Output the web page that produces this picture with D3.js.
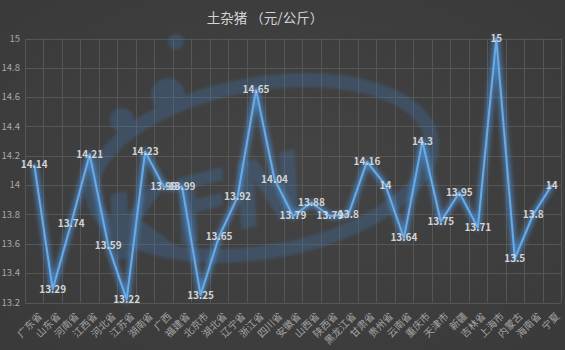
<!DOCTYPE html>
<html>
<head>
<meta charset="utf-8">
<script src="https://cdn.jsdelivr.net/npm/d3@7"></script>
<style>
  html, body { margin: 0; padding: 0; background: #3f3f3f; }
  svg { display: block; }
</style>
</head>
<body>
<svg id="chart" width="565" height="350"></svg>
<script>
// Regions (provinces / municipalities) along the category axis
const regions = ["广东省","山东省","河南省","江西省","河北省","江苏省","湖南省","广西","福建省","北京市",
  "湖北省","辽宁省","浙江省","四川省","安徽省","山西省","陕西省","黑龙江省","甘肃省","贵州省",
  "云南省","重庆市","天津市","新疆","吉林省","上海市","内蒙古","海南省","宁夏"];
// Price of 土杂猪, 元/公斤
const prices = [14.14,13.29,13.74,14.21,13.59,13.22,14.23,13.99,13.99,13.25,
  13.65,13.92,14.65,14.04,13.79,13.88,13.79,13.8,14.16,14,
  13.64,14.3,13.75,13.95,13.71,15,13.5,13.8,14];
const yTicks = [13.2,13.4,13.6,13.8,14,14.2,14.4,14.6,14.8,15];
const title = "土杂猪 （元/公斤）";

const W = 565, H = 350;
const plot = { left: 25, right: 561, top: 38.5, bottom: 302.5 };
const font = "'Noto Sans CJK SC','Noto Sans',sans-serif";

const svg = d3.select("#chart");
const defs = svg.append("defs");

// Background with a soft vignette
const bg = defs.append("radialGradient").attr("id", "bg").attr("cx", "50%").attr("cy", "50%").attr("r", "75%");
bg.append("stop").attr("offset", "0%").attr("stop-color", "#444444");
bg.append("stop").attr("offset", "100%").attr("stop-color", "#393939");
svg.append("rect").attr("width", W).attr("height", H).attr("fill", "url(#bg)");

// Glow for the series line
const glow = defs.append("filter").attr("id", "glow").attr("x", "-10%").attr("y", "-10%").attr("width", "120%").attr("height", "120%");
glow.append("feGaussianBlur").attr("stdDeviation", 2.8);

const wmBlur = defs.append("filter").attr("id", "wmblur");
wmBlur.append("feGaussianBlur").attr("stdDeviation", 1.5);

const x = d3.scaleBand().domain(regions).range([plot.left, plot.right]).padding(0);
const y = d3.scaleLinear().domain([13.2, 15]).range([plot.bottom, plot.top]);

// Gridlines
const grid = svg.append("g").attr("stroke", "#565656").attr("stroke-width", 1);
grid.selectAll("line.h").data(yTicks).join("line")
  .attr("x1", plot.left).attr("x2", plot.right)
  .attr("y1", d => Math.round(y(d)) + 0.5).attr("y2", d => Math.round(y(d)) + 0.5);
const bounds = regions.map(r => x(r)).concat([plot.right]);
grid.selectAll("line.v").data(bounds).join("line")
  .attr("y1", plot.top).attr("y2", plot.bottom)
  .attr("x1", d => Math.round(d) + 0.5).attr("x2", d => Math.round(d) + 0.5);

// Faint logo in the background
const wm = svg.append("g").attr("opacity", 0.24).attr("filter", "url(#wmblur)");
wm.append("ellipse").attr("cx", 262).attr("cy", 168).attr("rx", 172).attr("ry", 84)
  .attr("transform", "rotate(-10 262 168)")
  .attr("fill", "none").attr("stroke", "#3f86d0").attr("stroke-width", 14);
wm.append("circle").attr("cx", 168).attr("cy", 95).attr("r", 17).attr("fill", "#3f86d0");
wm.append("circle").attr("cx", 122).attr("cy", 120).attr("r", 12).attr("fill", "#3f86d0");
wm.append("circle").attr("cx", 176).attr("cy", 42).attr("r", 8).attr("fill", "#3f86d0");
wm.append("text").attr("x", 112).attr("y", 262).attr("font-family", "'DejaVu Sans',sans-serif")
  .attr("font-size", 90).attr("font-weight", "bold").attr("font-style", "italic")
  .attr("fill", "#3f86d0").attr("transform", "rotate(-14 112 262)").text("KFN");

// Y axis labels
svg.append("g").selectAll("text").data(yTicks).join("text")
  .attr("x", 20).attr("y", d => y(d)).attr("dy", "0.35em")
  .attr("text-anchor", "end").attr("font-family", font).attr("font-size", 9.5)
  .attr("fill", "#a8a8a8").text(d => d3.format("~g")(d));

// X axis labels, rotated
svg.append("g").selectAll("text").data(regions).join("text")
  .attr("transform", d => `translate(${x(d) + x.bandwidth() / 2 + 6},${plot.bottom + 12}) rotate(-45)`)
  .attr("text-anchor", "end").attr("dy", "0.35em")
  .attr("font-family", font).attr("font-size", 10).attr("fill", "#a4a4a4").text(d => d);

// Series line
const line = d3.line().x((d, i) => x(regions[i]) + x.bandwidth() / 2).y(d => y(d));
svg.append("path").datum(prices).attr("d", line).attr("fill", "none")
  .attr("stroke", "#4f9be8").attr("stroke-width", 5.5).attr("opacity", 0.7)
  .attr("stroke-linejoin", "round").attr("filter", "url(#glow)");
svg.append("path").datum(prices).attr("d", line).attr("fill", "none")
  .attr("stroke", "#6aaae6").attr("stroke-width", 2).attr("stroke-linejoin", "round");

// Data labels centred on each point
svg.append("g").selectAll("text").data(prices).join("text")
  .attr("x", (d, i) => x(regions[i]) + x.bandwidth() / 2)
  .attr("y", d => y(d)).attr("dy", "0.35em")
  .attr("text-anchor", "middle").attr("font-family", font).attr("font-size", 10)
  .attr("font-weight", "bold").attr("fill", "#d4d4d4").text(d => d);

// Title
svg.append("text").attr("x", 265).attr("y", 18).attr("dy", "0.35em").attr("text-anchor", "middle")
  .attr("font-family", font).attr("font-size", 13.5).attr("fill", "#d4d4d4").text(title);
</script>
</body>
</html>
